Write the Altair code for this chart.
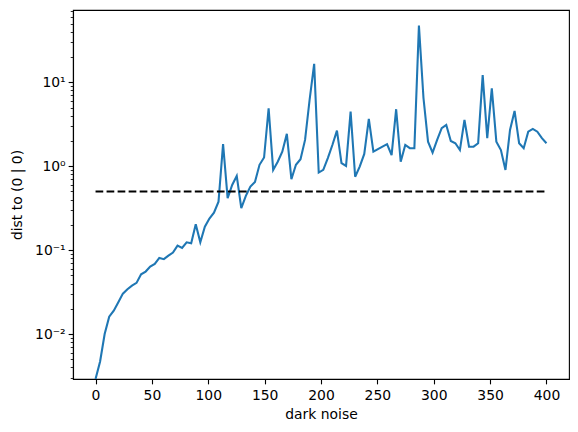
import altair as alt
import numpy as np
import pandas as pd

# sampled dark-noise grid
dark_noise = np.linspace(0, 400, 100)

# distance to (0 | 0) (first value is 0, off the log axis)
dist = [
    0.0, 0.0047, 0.0100, 0.0161, 0.019, 0.0239, 0.0303, 0.0342, 0.0378, 0.0407,
    0.0516, 0.0555, 0.0636, 0.0685, 0.0807, 0.078, 0.086, 0.0934, 0.113, 0.106,
    0.124, 0.121, 0.204, 0.124, 0.19, 0.238, 0.28, 0.378, 1.84, 0.416,
    0.598, 0.766, 0.316, 0.443, 0.571, 0.65, 1.04, 1.27, 4.91, 0.904,
    1.13, 1.49, 2.43, 0.70, 1.04, 1.21, 2.06, 6.2, 16.6, 0.84,
    0.904, 1.25, 1.79, 2.66, 1.09, 1.01, 4.48, 0.75, 0.99, 1.40,
    3.66, 1.49, 1.60, 1.71, 1.83, 1.36, 4.78, 1.13, 1.79, 1.64,
    1.64, 47.4, 6.5, 1.96, 1.45, 2.06, 2.84, 3.1, 2.0, 1.88,
    1.56, 3.56, 1.71, 1.71, 1.88, 12.2, 2.16, 8.5, 1.96, 1.56,
    0.904, 2.71, 4.56, 1.88, 1.64, 2.58, 2.78, 2.58, 2.16, 1.88,
]

threshold_x = [0, 400]
threshold_y = [0.5, 0.5]

x_ticks = [0, 50, 100, 150, 200, 250, 300, 350, 400]
y_major = [0.01, 0.1, 1, 10]
y_lo, y_hi = 0.00291, 72.8
y_minor = [m * 10.0 ** e for e in range(-3, 2) for m in range(2, 10)
           if y_lo <= m * 10.0 ** e <= y_hi]

df = pd.DataFrame({"dark noise": dark_noise, "dist": dist})
thr = pd.DataFrame({"dark noise": threshold_x, "dist": threshold_y})

FONT = "DejaVu Sans"
FS = 13.9

xscale = alt.Scale(domain=[-20, 420], nice=False, zero=False)
yscale = alt.Scale(type="log", domain=[y_lo, y_hi], nice=False, clamp=True)

x_axis = alt.Axis(values=x_ticks, title="dark noise", tickSize=4.86,
                  labelPadding=5, titlePadding=5, format="d")

label_expr = ("datum.value == 0.01 ? '10⁻²' : datum.value == 0.1 ? '10⁻¹' : "
              "datum.value == 1 ? '10⁰' : '10¹'")

line = alt.Chart(df).mark_line(
    color="#1f77b4", strokeWidth=2.08, invalid="show", clip=True
).encode(
    x=alt.X("dark noise:Q", scale=xscale, axis=x_axis),
    y=alt.Y("dist:Q", scale=yscale,
            axis=alt.Axis(values=y_major, labelExpr=label_expr,
                          title="dist to (0 | 0)", orient="left",
                          tickSize=4.86, labelPadding=3, titlePadding=10)),
)

thr_line = alt.Chart(thr).mark_line(
    color="black", strokeWidth=2.08, strokeDash=[7.7, 3.33]
).encode(
    x=alt.X("dark noise:Q", scale=xscale, axis=x_axis),
    y=alt.Y("dist:Q", scale=yscale,
            axis=alt.Axis(values=y_minor, labels=False, tickSize=2.78,
                          tickWidth=0.83, title="", orient="left",
                          domain=False)),
)

chart = alt.layer(line, thr_line).resolve_axis(y="independent").properties(
    width=496, height=369,
    autosize=alt.AutoSizeParams(type="none"),
    padding={"left": 73, "top": 10, "right": 9, "bottom": 53},
).configure_axis(
    grid=False,
    labelFont=FONT, labelFontSize=FS, labelColor="black",
    titleFont=FONT, titleFontSize=FS, titleColor="black", titleFontWeight="normal",
    domainColor="black", domainWidth=1.11,
    tickColor="black", tickWidth=1.11,
).configure_view(
    stroke="black", strokeWidth=1.11
)

chart.save("out.html", embed_options={"renderer": "svg", "actions": False})
